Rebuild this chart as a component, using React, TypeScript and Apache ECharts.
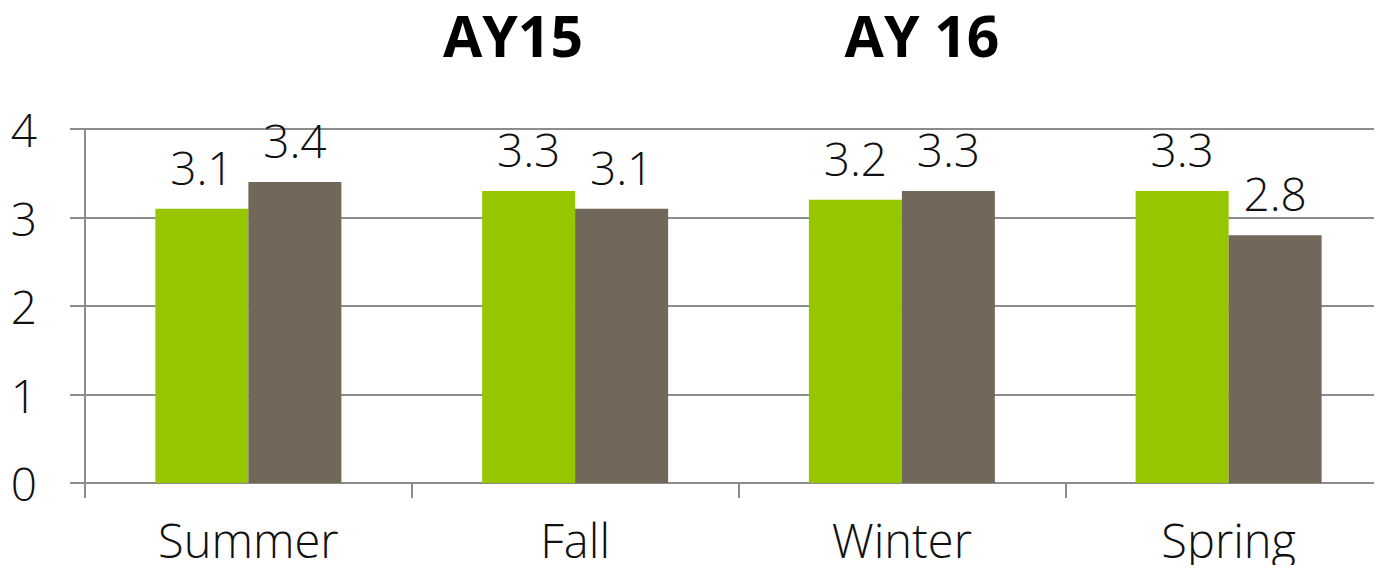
import React, { useEffect, useRef } from "react";
import * as echarts from "echarts";

const categories = ["Summer", "Fall", "Winter", "Spring"];
const seriesAY15 = [3.1, 3.3, 3.2, 3.3];
const seriesAY16 = [3.4, 3.1, 3.3, 2.8];
const titleTexts = ["AY15", "AY 16"];

const FONT = "'Open Sans', 'DejaVu Sans', sans-serif";

export default function App() {
  const ref = useRef<HTMLDivElement>(null);
  useEffect(() => {
    if (!ref.current) return;
    const chart = echarts.init(ref.current, undefined, { renderer: "svg" });
    const labelStyle = {
      show: true,
      position: "top" as const,
      distance: 19,
      fontFamily: FONT,
      fontWeight: 300,
      fontSize: 46,
      lineHeight: 46,
      color: "#111",
    };
    const titleStyle = (text: string) => ({
      text,
      fontFamily: FONT,
      fontWeight: "bold",
      fontSize: 57,
      lineHeight: 57,
      fill: "#000",
      align: "center",
      verticalAlign: "top",
    });
    chart.setOption({
      animation: false,
      grid: { left: 85, right: 0, top: 129, bottom: 90, containLabel: false },
      graphic: [
        { type: "text", x: 513, y: 6, style: titleStyle(titleTexts[0]) },
        { type: "text", x: 922, y: 6, style: titleStyle(titleTexts[1]) },
      ],
      xAxis: {
        type: "category",
        data: categories,
        boundaryGap: true,
        axisLine: { show: true, lineStyle: { color: "#8c8c8c", width: 2 } },
        axisTick: { show: true, length: 15, lineStyle: { color: "#8c8c8c", width: 2 } },
        axisLabel: {
          margin: 33,
          fontFamily: FONT,
          fontWeight: 300,
          fontSize: 47,
          lineHeight: 47,
          color: "#111",
        },
        splitLine: { show: false },
      },
      yAxis: {
        type: "value",
        min: 0,
        max: 4,
        interval: 1,
        axisLine: { show: true, lineStyle: { color: "#8c8c8c", width: 2 } },
        axisTick: { show: true, length: 15, lineStyle: { color: "#8c8c8c", width: 2 } },
        axisLabel: {
          margin: 48,
          fontFamily: FONT,
          fontWeight: 300,
          fontSize: 46,
          lineHeight: 46,
          color: "#111",
        },
        splitLine: { show: true, lineStyle: { color: "#8c8c8c", width: 2 } },
      },
      series: [
        {
          name: "AY15",
          type: "bar",
          data: seriesAY15,
          barWidth: 93,
          barGap: "0%",
          itemStyle: { color: "#95C600" },
          label: labelStyle,
        },
        {
          name: "AY16",
          type: "bar",
          data: seriesAY16,
          barWidth: 93,
          barGap: "0%",
          itemStyle: { color: "#716859" },
          label: labelStyle,
        },
      ],
    });
    return () => chart.dispose();
  }, []);
  return (
    <div style={{ width: 1382, height: 573, margin: -8, overflow: "hidden", position: "relative" }}>
      <div ref={ref} style={{ width: 1392, height: 573 }} />
    </div>
  );
}
